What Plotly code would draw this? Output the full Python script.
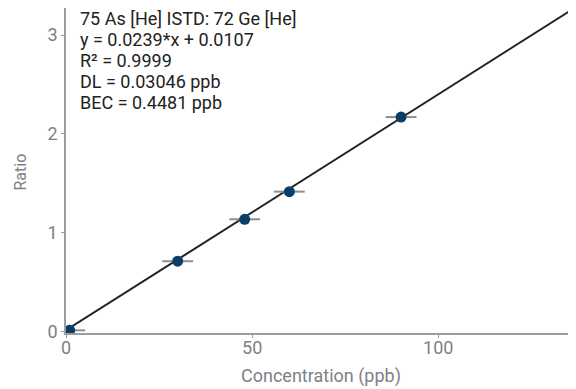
import plotly.graph_objects as go

conc = [1, 30, 48, 60, 90]
ratio = [0.01, 0.71, 1.135, 1.415, 2.17]
slope = 0.0239
intercept = 0.0107
fit_x = [0, 135]
fit_y = [slope * x + intercept for x in fit_x]
x_ticks = [0, 50, 100]
y_ticks = [0, 1, 2, 3]
x_title = "Concentration (ppb)"
y_title = "Ratio"
info_lines = ["75 As [He] ISTD: 72 Ge [He]", "y = 0.0239*x + 0.0107", "R² = 0.9999",
              "DL = 0.03046 ppb", "BEC = 0.4481 ppb"]

fig = go.Figure()
fig.add_trace(go.Scatter(x=fit_x, y=fit_y, mode="lines",
                         line=dict(color="#222222", width=2), hoverinfo="skip"))
fig.add_trace(go.Scatter(x=conc, y=ratio, mode="markers",
                         marker=dict(symbol="line-ew", size=22,
                                     line=dict(color="#8a8f96", width=2))))
fig.add_trace(go.Scatter(x=conc, y=ratio, mode="markers",
                         marker=dict(symbol="circle", size=11, color="#0b3d66")))

axis_common = dict(showgrid=False, zeroline=False, showline=True, linecolor="#9a9ea3",
                   linewidth=1.5, ticks="outside", ticklen=3, tickcolor="#9a9ea3",
                   automargin=False,
                   tickfont=dict(family="Roboto", size=18, color="#7d8186"))
fig.update_xaxes(range=[0, 137], tickvals=x_ticks, ticklabelstandoff=-5, **axis_common)
fig.update_yaxes(range=[-0.017, 3.275], tickvals=y_ticks, **axis_common)

title_font = dict(family="Roboto", size=18, color="#7d8186")
fig.add_annotation(x=0.5, y=0, xref="paper", yref="paper", xanchor="center", yanchor="middle",
                   yshift=-43, showarrow=False, text=x_title, font=title_font)
fig.add_annotation(x=0, y=0.5, xref="paper", yref="paper", xanchor="center", yanchor="middle",
                   xshift=-46, yshift=-2, textangle=-90, showarrow=False, text=y_title,
                   font=dict(family="Roboto", size=16, color="#7d8186"))

for i, line in enumerate(info_lines):
    fig.add_annotation(x=0, y=1, xref="paper", yref="paper", xanchor="left", yanchor="middle",
                       xshift=12, yshift=-(10 + 21 * i), align="left", showarrow=False,
                       text=line, font=dict(family="Roboto", size=18, color="#222222"))

fig.update_layout(width=568, height=381, margin=dict(l=58, r=0, t=0, b=56),
                  plot_bgcolor="white", paper_bgcolor="white", showlegend=False)
fig.write_html("out.html")
